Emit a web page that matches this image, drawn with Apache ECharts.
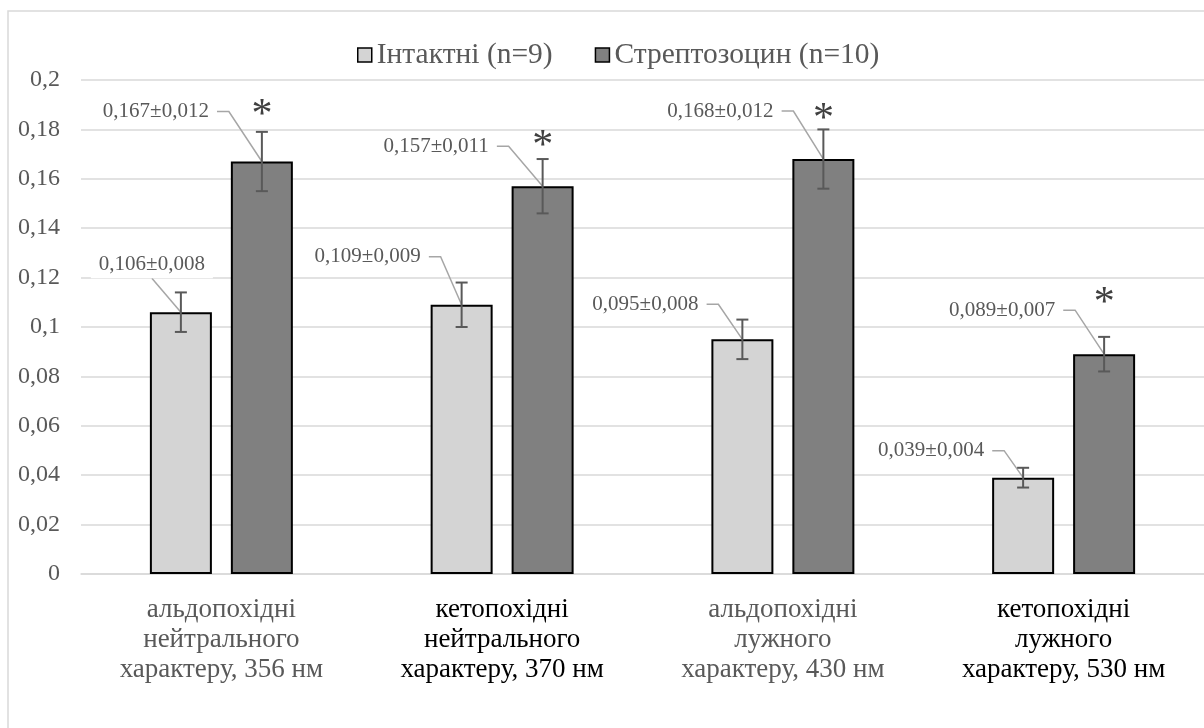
<!DOCTYPE html>
<html>
<head>
<meta charset="utf-8">
<script src="https://cdn.jsdelivr.net/npm/echarts@6/dist/echarts.min.js"></script>
<style>
  html, body { margin: 0; padding: 0; background: #ffffff; }
  #chart { width: 1204px; height: 728px; }
</style>
</head>
<body>
<div id="chart"></div>
<script>
// ---- data ----
const categories = [
  'альдопохідні\nнейтрального\nхарактеру, 356 нм',
  'кетопохідні\nнейтрального\nхарактеру, 370 нм',
  'альдопохідні\nлужного\nхарактеру, 430 нм',
  'кетопохідні\nлужного\nхарактеру, 530 нм'
];
const seriesNames = ['Інтактні (n=9)', 'Стрептозоцин (n=10)'];
const intactMean = [0.106, 0.109, 0.095, 0.039];
const intactSem = [0.008, 0.009, 0.008, 0.004];
const streptoMean = [0.167, 0.157, 0.168, 0.089];
const streptoSem = [0.012, 0.011, 0.012, 0.007];
const streptoSignificant = [true, true, true, true];
const yMin = 0;
const yMax = 0.2;
const yStep = 0.02;

// ---- layout of the value callouts (pixel offsets from the top-centre of each bar) ----
// [dx, dy, kind]: start of the leader line; 'side' = text to the left, 'above' = text above
const intactCallout = [[-29, -34, 'above'], [-33, -48, 'side'], [-36, -35, 'side'], [-31, -27, 'side']];
const streptoCallout = [[-45, -50, 'side'], [-46, -40, 'side'], [-42, -48, 'side'], [-41, -44, 'side']];
const starOffset = [-46, -39, -39, -50];

const BAR_W = 62;
const BAR_GAP = 19;
const BAR_SHIFT = (BAR_W + BAR_GAP) / 2;
const FONT = 'Liberation Serif';
const TEXT_GREY = '#595959';

function commaNum(v, digits) {
  return v.toFixed(digits).replace('.', ',');
}

function makeRenderer(means, sems, callouts, side, stars) {
  return function (params, api) {
    const i = api.value(0);
    const mean = api.value(1);
    const sem = api.value(2);
    const top = api.coord([i, mean]);
    const x = top[0] + side * BAR_SHIFT;
    const y = top[1];
    const hi = api.coord([i, mean + sem])[1];
    const lo = api.coord([i, mean - sem])[1];
    const c = callouts[i];
    const sx = x + c[0];
    const sy = y + c[1];
    const children = [];

    // leader line from the callout to the bar top
    const pts = c[2] === 'side' ? [[sx, sy], [sx + 12, sy], [x, y]] : [[sx, sy], [x, y]];
    children.push({
      type: 'polyline',
      shape: { points: pts },
      style: { stroke: '#a6a6a6', lineWidth: 1.5, fill: null }
    });

    // error bar
    const errStyle = { stroke: '#595959', lineWidth: 2 };
    children.push({ type: 'line', shape: { x1: x, y1: hi, x2: x, y2: lo }, style: errStyle });
    children.push({ type: 'line', shape: { x1: x - 6, y1: hi, x2: x + 6, y2: hi }, style: errStyle });
    children.push({ type: 'line', shape: { x1: x - 6, y1: lo, x2: x + 6, y2: lo }, style: errStyle });

    // callout text
    const label = commaNum(mean, 3) + '±' + commaNum(sem, 3);
    const textStyle = {
      text: label, x: sx, y: sy,
      align: c[2] === 'side' ? 'right' : 'center',
      verticalAlign: c[2] === 'side' ? 'middle' : 'bottom',
      font: '21px "' + FONT + '"',
      fill: TEXT_GREY,
      backgroundColor: '#ffffff',
      padding: [3, 8, 3, 8]
    };
    children.push({ type: 'text', style: textStyle, z2: 10 });

    // significance mark
    if (stars && stars[i]) {
      children.push({
        type: 'text',
        style: {
          text: '*', x: x, y: y + starOffset[i],
          align: 'center', verticalAlign: 'middle',
          font: '42px "' + FONT + '"', fill: '#404040'
        }
      });
    }
    return { type: 'group', children: children };
  };
}

const chart = echarts.init(document.getElementById('chart'), null, { renderer: 'canvas' });

const option = {
  backgroundColor: '#ffffff',
  animation: false,
  graphic: [{
    type: 'rect',
    z: -10,
    shape: { x: 8, y: 11, width: 1300, height: 800 },
    style: { fill: null, stroke: '#d9d9d9', lineWidth: 1.5 }
  }],
  legend: {
    data: seriesNames,
    left: 357,
    top: 40,
    padding: 0,
    itemWidth: 14,
    itemHeight: 14,
    itemGap: 42,
    icon: 'rect',
    itemStyle: { borderColor: '#000000', borderWidth: 1.5 },
    textStyle: { fontFamily: FONT, fontSize: 29.5, color: TEXT_GREY }
  },
  grid: { left: 81, right: -9, top: 80, bottom: 154 },
  xAxis: {
    type: 'category',
    data: categories,
    axisLine: { show: true, lineStyle: { color: '#d9d9d9', width: 1.5 } },
    axisTick: { show: false },
    axisLabel: {
      interval: 0,
      margin: 21,
      fontFamily: FONT,
      fontSize: 27,
      lineHeight: 30,
      color: function (value, index) { return index % 2 === 1 ? '#000000' : TEXT_GREY; }
    }
  },
  yAxis: {
    type: 'value',
    min: yMin,
    max: yMax,
    interval: yStep,
    axisLine: { show: false },
    axisTick: { show: false },
    splitLine: { lineStyle: { color: '#d9d9d9', width: 1.5 } },
    axisLabel: {
      margin: 21,
      fontFamily: FONT,
      fontSize: 24,
      color: TEXT_GREY,
      formatter: function (v) { return String(parseFloat(v.toFixed(2))).replace('.', ','); }
    }
  },
  series: [
    {
      name: seriesNames[0],
      type: 'bar',
      data: intactMean,
      barWidth: BAR_W,
      barGap: (BAR_GAP / BAR_W * 100).toFixed(1) + '%',
      itemStyle: { color: '#d4d4d4', borderColor: '#000000', borderWidth: 2 }
    },
    {
      name: seriesNames[1],
      type: 'bar',
      data: streptoMean,
      barWidth: BAR_W,
      barGap: (BAR_GAP / BAR_W * 100).toFixed(1) + '%',
      itemStyle: { color: '#808080', borderColor: '#000000', borderWidth: 2 }
    },
    {
      type: 'custom',
      z: 5,
      renderItem: makeRenderer(intactMean, intactSem, intactCallout, -1, null),
      encode: { x: 0, y: 1 },
      data: categories.map(function (c, i) { return [i, intactMean[i], intactSem[i]]; })
    },
    {
      type: 'custom',
      z: 5,
      renderItem: makeRenderer(streptoMean, streptoSem, streptoCallout, 1, streptoSignificant),
      encode: { x: 0, y: 1 },
      data: categories.map(function (c, i) { return [i, streptoMean[i], streptoSem[i]]; })
    }
  ]
};

chart.setOption(option);
</script>
</body>
</html>
